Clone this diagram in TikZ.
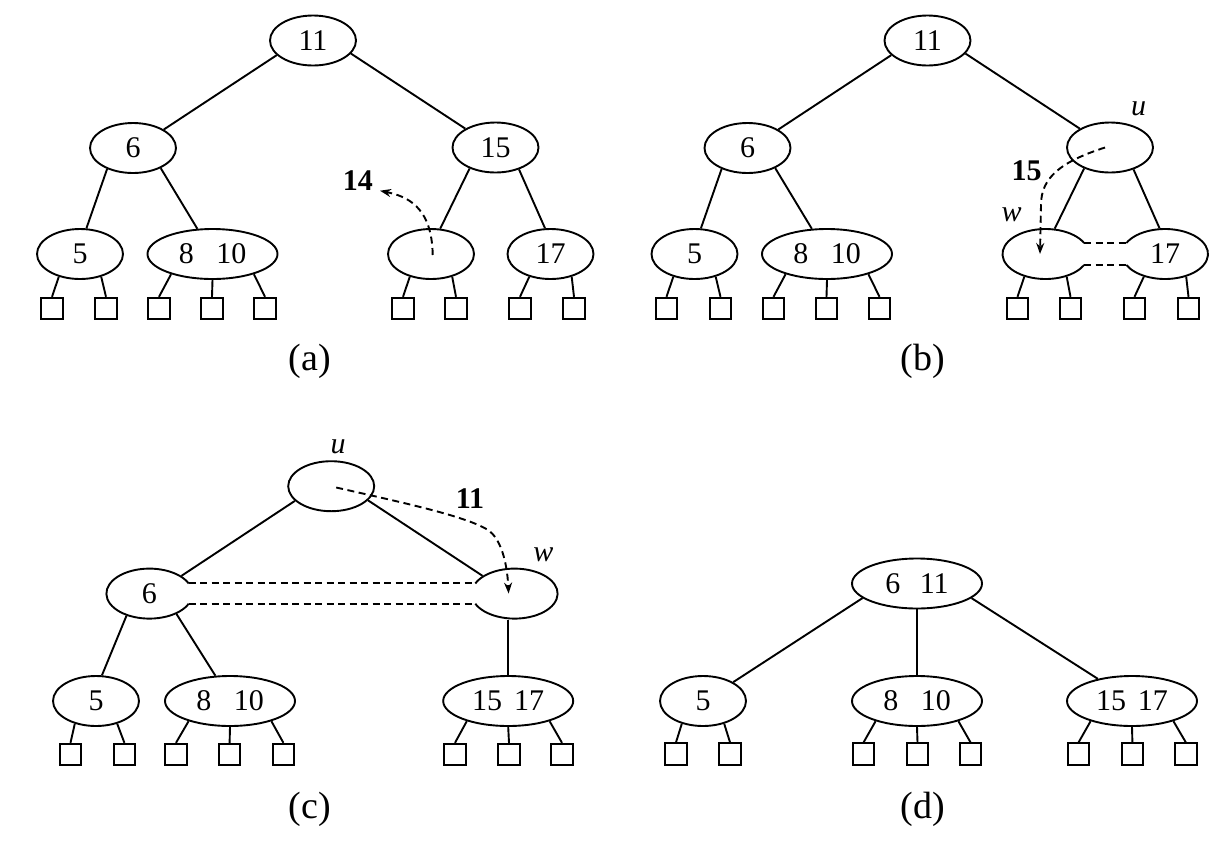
\documentclass[tikz,border=0pt]{standalone}
\usepackage{fontspec}
\setmainfont{Liberation Serif}
\usetikzlibrary{arrows.meta,shapes.geometric}
\newcommand\nfs{\fontsize{30}{33}\selectfont}
\newcommand\lfs{\fontsize{38}{43}\selectfont}
\begin{document}
\begin{tikzpicture}[x=1pt,y=1pt,line width=1.9pt,
  knode/.style={draw, ellipse, minimum width=86pt, minimum height=50pt, inner sep=0pt, font=\nfs},
  wnode/.style={knode, minimum width=130pt},
  ghost/.style={ellipse, minimum width=86pt, minimum height=50pt, inner sep=0pt, font=\nfs},
  leaf/.style={draw, rectangle, minimum size=21.5pt, inner sep=0pt},
  dsh/.style={dash pattern=on 7pt off 4.5pt},
  darrow/.style={dsh, -{Stealth[length=11pt,width=8pt]}},
  lbl/.style={font=\lfs, anchor=base, inner sep=0pt},
  bnum/.style={font=\nfs\bfseries, anchor=base, inner sep=0pt},
  iname/.style={font=\nfs\itshape, anchor=base, inner sep=0pt}]
\useasboundingbox (0,0) rectangle (1226,-847);

% ---------------- (a) ----------------
\node[knode] (a11) at (313,-40.5) {11};
\node[knode] (a6) at (133,-148) {6};
\node[knode] (a15) at (495.5,-147.5) {15};
\node[knode] (a5) at (80,-254) {5};
\node[wnode] (a810) at (212.5,-254) {8\hspace{0.75em}10};
\node[knode] (ae) at (431,-254) {};
\node[knode] (a17) at (550.5,-254) {17};
\foreach \n/\x in {1/52,2/106,3/159,4/212,5/265,6/403,7/456,8/520,9/574}
  \node[leaf] (al\n) at (\x,-308.5) {};
\draw (a11.202) -- (a6.31);
\draw (a11.-19) -- (a15.148);
\draw (a6.219) -- (a5.76);
\draw (a6.-36) -- (a810.121);
\draw (a15.219) -- (ae.70);
\draw (a15.-43) -- (a17.102);
\draw (a5.227) -- (al1.north);
\draw (a5.-47) -- (al2.north);
\draw (a810.206) -- (al3.north);
\draw (a810.south) -- (al4.north);
\draw (a810.-26) -- (al5.north);
\draw (ae.227) -- (al6.north);
\draw (ae.-47) -- (al7.north);
\draw (a17.227) -- (al8.north);
\draw (a17.-47) -- (al9.north);
\node[bnum] (a14) at (357.8,-190.7) {14};
\coordinate (a14tip) at (380,-190.7);
\draw[darrow] ([shift={(1.7pt,-1pt)}]ae.center) .. controls (432,-205) and (405,-196) .. (a14tip);
\node[lbl] (la) at (310,-370) {(a)};

% ---------------- (b) ----------------
\begin{scope}[xshift=614.5pt]
\node[knode] (b11) at (313,-40.5) {11};
\node[knode] (b6) at (133,-148) {6};
\node[knode] (bu) at (495.5,-147.5) {};
\node[knode] (b5) at (80,-254) {5};
\node[wnode] (b810) at (212.5,-254) {8\hspace{0.75em}10};
\node[ghost] (bw) at (431,-254) {};
\node[ghost] (b17) at (550.5,-254) {17};
\foreach \n/\x in {1/52,2/106,3/159,4/212,5/265,6/403,7/456,8/520,9/574}
  \node[leaf] (bl\n) at (\x,-308.5) {};
\draw ([shift={(26:43pt and 25pt)}]bw.center) arc[start angle=26, end angle=334, x radius=43pt, y radius=25pt];
\draw ([shift={(154:43pt and 25pt)}]b17.center) arc[start angle=154, end angle=-154, x radius=43pt, y radius=25pt];
\draw[dsh] ([shift={(26:43pt and 25pt)}]bw.center) -- ([shift={(154:43pt and 25pt)}]b17.center);
\draw[dsh] ([shift={(-26:43pt and 25pt)}]bw.center) -- ([shift={(-154:43pt and 25pt)}]b17.center);
\draw (b11.202) -- (b6.31);
\draw (b11.-19) -- (bu.148);
\draw (b6.219) -- (b5.76);
\draw (b6.-36) -- (b810.121);
\draw (bu.219) -- (bw.70);
\draw (bu.-43) -- (b17.102);
\draw (b5.227) -- (bl1.north);
\draw (b5.-47) -- (bl2.north);
\draw (b810.206) -- (bl3.north);
\draw (b810.south) -- (bl4.north);
\draw (b810.-26) -- (bl5.north);
\draw (bw.227) -- (bl6.north);
\draw (bw.-47) -- (bl7.north);
\draw (b17.227) -- (bl8.north);
\draw (b17.-47) -- (bl9.north);
\node[iname] (bul) at (524,-115) {u};
\node[iname] (bwl) at (397.2,-221) {w};
\node[bnum] (b15) at (412.2,-180) {15};
\draw[darrow] ([xshift=-5pt]bu.center) .. controls (445.5,-162) and (426.5,-178) .. (426.5,-205) -- ([xshift=-5.5pt]bw.center);
\node[lbl] (lb) at (308.5,-370) {(b)};
\end{scope}

% ---------------- (c) ----------------
\node[knode] (cu) at (331.2,-486.2) {};
\node[ghost] (c6) at (149.4,-593.6) {6};
\node[ghost] (cw) at (514.6,-593.6) {};
\draw ([shift={(24:43pt and 25pt)}]c6.center) arc[start angle=24, end angle=336, x radius=43pt, y radius=25pt];
\draw ([shift={(156:43pt and 25pt)}]cw.center) arc[start angle=156, end angle=-156, x radius=43pt, y radius=25pt];
\draw[dsh] ([shift={(24:43pt and 25pt)}]c6.center) -- ([shift={(156:43pt and 25pt)}]cw.center);
\draw[dsh] ([shift={(-24:43pt and 25pt)}]c6.center) -- ([shift={(-156:43pt and 25pt)}]cw.center);
\node[knode] (c5) at (96,-701) {5};
\node[wnode] (c810) at (230,-701) {8\hspace{0.75em}10};
\node[wnode] (c1517) at (508.2,-701) {15\hspace{0.4em}17};
\foreach \n/\x in {1/70.5,2/124.4,3/176,4/229.6,5/283.4,6/455,7/509,8/562}
  \node[leaf] (cl\n) at (\x,-754.5) {};
\draw (cu.202) -- (c6.29);
\draw (cu.-21) -- (cw.151);
\draw (c6.224) -- (c5.77);
\draw (c6.-37) -- (c810.120);
\draw (c1517.north) -- (c1517.north |- cw.south);
\draw (c5.227) -- (cl1.north);
\draw (c5.-47) -- (cl2.north);
\draw (c810.206) -- (cl3.north);
\draw (c810.south) -- (cl4.north);
\draw (c810.-26) -- (cl5.north);
\draw (c1517.206) -- (cl6.north);
\draw (c1517.south) -- (cl7.north);
\draw (c1517.-26) -- (cl8.north);
\node[iname] (cul) at (338,-453.3) {u};
\node[iname] (cwl) at (543.3,-561.7) {w};
\node[bnum] (c11) at (470,-508) {11};
\draw[darrow] ([shift={(5pt,-1.3pt)}]cu.center) .. controls (400,-502) and (466,-516) .. (488,-530) .. controls (500,-538) and (507,-560) .. ([xshift=-6pt]cw.center);
\node[lbl] (lc) at (310,-818.5) {(c)};

% ---------------- (d) ----------------
\node[wnode] (d611) at (917,-583.5) {6\hspace{0.65em}11};
\node[knode] (d5) at (703,-701) {5};
\node[wnode] (d810) at (917,-701) {8\hspace{0.75em}10};
\node[wnode] (d1517) at (1132,-701) {15\hspace{0.4em}17};
\foreach \n/\x in {1/676,2/730,3/863.6,4/917.5,5/970.5,6/1078.6,7/1132.4,8/1185.8}
  \node[leaf] (dl\n) at (\x,-754) {};
\draw (d611.195) -- (d5.32);
\draw (d611.south) -- (d810.north);
\draw (d611.-15) -- (d1517.147);
\draw (d5.227) -- (dl1.north);
\draw (d5.-47) -- (dl2.north);
\draw (d810.206) -- (dl3.north);
\draw (d810.south) -- (dl4.north);
\draw (d810.-26) -- (dl5.north);
\draw (d1517.206) -- (dl6.north);
\draw (d1517.south) -- (dl7.north);
\draw (d1517.-26) -- (dl8.north);
\node[lbl] (ld) at (923,-818.5) {(d)};
\end{tikzpicture}
\end{document}
